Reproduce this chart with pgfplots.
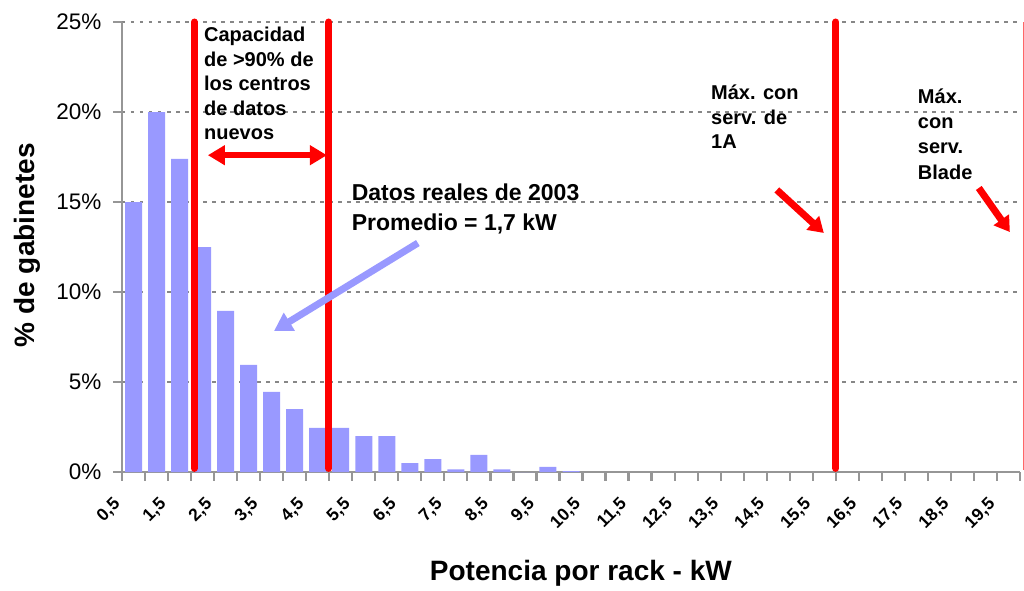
\documentclass[border=0pt]{standalone}
\usepackage{fontspec}
\setmainfont{Liberation Sans}
\usepackage{pgfplots}
\pgfplotsset{compat=1.18}
\usetikzlibrary{arrows.meta}
\definecolor{barblue}{RGB}{153,153,255}
\definecolor{axgray}{RGB}{150,150,150}
\definecolor{gridgray}{RGB}{135,135,135}
\tikzset{anno/.style={anchor=base west, inner sep=0pt, font=\fontsize{20}{24}\selectfont\bfseries},
         annob/.style={anchor=base west, inner sep=0pt, font=\fontsize{23}{28}\selectfont\bfseries}}
\begin{document}
\begin{tikzpicture}
\begin{axis}[
  name=main,
  scale only axis, width=898pt, height=450pt,
  xmin=-0.5, xmax=38.5, ymin=0, ymax=25,
  clip=false,
  ybar, bar width=17pt,
  axis x line=bottom, axis y line=left,
  axis line style={-, draw=axgray, line width=2.7pt},
  tick align=outside, major tick length=8.5pt,
  tick style={draw=axgray, line width=2.2pt},
  xtick={-0.5,0.5,...,38.5},
  xticklabels={{0,5},{},{1,5},{},{2,5},{},{3,5},{},{4,5},{},{5,5},{},{6,5},{},{7,5},{},{8,5},{},{9,5},{},{10,5},{},{11,5},{},{12,5},{},{13,5},{},{14,5},{},{15,5},{},{16,5},{},{17,5},{},{18,5},{},{19,5},{}},
  xticklabel style={xshift=-4.5pt, yshift=-21pt, rotate=45, anchor=east, inner sep=0pt, font=\fontsize{17.5}{20}\selectfont\bfseries},
  ytick={0,5,10,15,20,25},
  yticklabels={0\%,5\%,10\%,15\%,20\%,25\%},
  yticklabel style={xshift=-12pt, anchor=east, inner sep=0pt, font=\fontsize{22.5}{26}\selectfont},
  ymajorgrids,
  grid style={draw=gridgray, line width=2.5pt, dash pattern=on 3.5pt off 5.5pt},
  major grid style={draw=gridgray, line width=2.5pt, dash pattern=on 3.5pt off 5.5pt},
  xlabel={Potencia por rack - kW},
  xlabel style={at={(axis description cs:0.511,-0.2422)}, anchor=base, font=\fontsize{28}{32}\selectfont\bfseries},
  ylabel={\% de gabinetes},
  ylabel style={at={(axis description cs:-0.1058,0.504)}, anchor=center, font=\fontsize{28}{32}\selectfont\bfseries},
]
\addplot[fill=barblue, draw=none] coordinates {
 (0,15.0) (1,20.0) (2,17.4) (3,12.5) (4,8.95) (5,5.95) (6,4.45) (7,3.5)
 (8,2.45) (9,2.45) (10,2.0) (11,2.0) (12,0.5) (13,0.72) (14,0.15) (15,0.95)
 (16,0.15) (17,0) (18,0.28) (19,0.05)
};
\draw[red, line width=7pt, line cap=round] (axis cs:2.64,0.2) -- (axis cs:2.64,25.0);
\draw[red, line width=7pt, line cap=round] (axis cs:8.48,0.2) -- (axis cs:8.48,25.0);
\draw[red, line width=7pt, line cap=round] (axis cs:30.5,0.2) -- (axis cs:30.5,25.0);
\draw[red!60, line width=1.2pt] (axis cs:38.64,0.1) -- (axis cs:38.64,25.0);
\draw[red, line width=6pt, {Triangle[length=17pt,width=19pt]}-{Triangle[length=17pt,width=19pt]}] (axis cs:3.23,17.6) -- (axis cs:8.40,17.6);
\draw[barblue, line width=7pt, -{Triangle[length=18pt,width=20pt]}] (axis cs:12.35,12.72) -- (axis cs:6.10,7.83);
\draw[red, line width=7pt, -{Triangle[length=15pt,width=18pt]}] (axis cs:27.94,15.67) -- (axis cs:29.98,13.28);
\draw[red, line width=7pt, -{Triangle[length=15pt,width=18pt]}] (axis cs:36.71,15.78) -- (axis cs:38.06,13.33);
\node[anno] at (axis cs:3.06,23.91) {Capacidad};
\node[anno] at (axis cs:3.06,22.52) {de >90\% de};
\node[anno] at (axis cs:3.06,21.18) {los centros};
\node[anno] at (axis cs:3.06,19.83) {de datos};
\node[anno] at (axis cs:3.06,18.48) {nuevos};
\node[anno] at (axis cs:25.08,20.67) {Máx. con};
\node[anno] at (axis cs:25.08,19.33) {serv. de};
\node[anno] at (axis cs:25.08,18.0) {1A};
\node[anno] at (axis cs:34.06,20.5) {Máx.};
\node[anno] at (axis cs:34.06,19.08) {con};
\node[anno] at (axis cs:34.06,17.67) {serv.};
\node[anno] at (axis cs:34.06,16.25) {Blade};
\node[annob] at (axis cs:9.47,15.11) {Datos reales de 2003};
\node[annob] at (axis cs:9.47,13.44) {Promedio = 1,7 kW};
\end{axis}
\path (main.south west) ++(-122pt,-115pt) rectangle ++(1024pt,587pt);
\end{tikzpicture}
\end{document}
